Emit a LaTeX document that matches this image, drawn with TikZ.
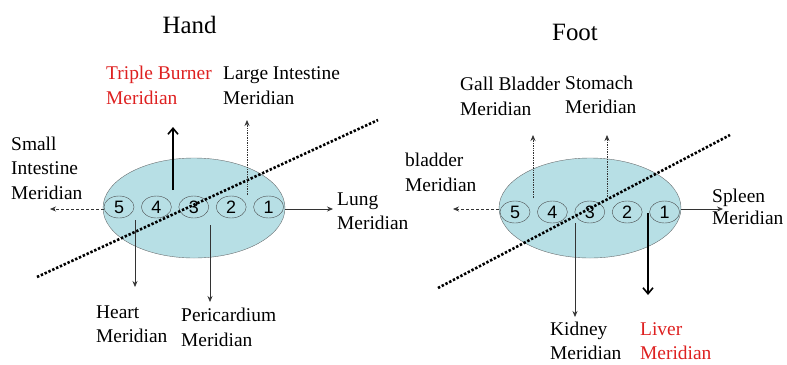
\documentclass[tikz,border=0pt]{standalone}
\usepackage{fontspec}
\setmainfont{Liberation Serif}
\setsansfont{Liberation Sans}
\usetikzlibrary{arrows.meta,positioning,shapes.geometric}
\definecolor{palmfill}{RGB}{183,223,229}
\definecolor{rim}{RGB}{105,110,112}
\definecolor{redlbl}{RGB}{222,32,32}

\begin{document}
\begin{tikzpicture}[x=1bp, y=-1bp, node distance=7bp,
    palm/.style={ellipse, draw=rim, fill=palmfill, minimum width=182bp, minimum height=100bp},
    pnt/.style={ellipse, draw=rim!70!black, minimum width=30bp, minimum height=22bp, inner sep=0pt, font=\sffamily\fontsize{18}{18}\selectfont},
    lbl/.style={anchor=west, align=left, inner sep=0pt, font=\fontsize{19.5}{24.5}\selectfont},
    ttl/.style={inner sep=0pt, font=\fontsize{25}{30}\selectfont},
    flow/.style={-{Stealth[length=6bp,width=5bp]}, line width=0.7bp, black!80},
    dots/.style={flow, densely dotted},
    dashd/.style={flow, densely dashed},
    strong/.style={-{Straight Barb[length=6bp,width=10bp]}, line width=1.6bp},
    cut/.style={line width=2.6bp, dash pattern=on 2.4bp off 1.8bp}]
    \useasboundingbox (0,0) rectangle (787,364);
    % hand
    \node[ttl] (hand) at (189.5,25) {Hand};
    \node[palm] (hov) at (194,208) {};
    \node[pnt] (h5) at (119,207) {5};
    \node[pnt, right=of h5] (h4) {4};
    \node[pnt, right=of h4] (h3) {3};
    \node[pnt, right=of h3] (h2) {2};
    \node[pnt, right=of h2] (h1) {1};
    \draw[cut] (37,277) -- (378,120);
    \node[lbl, text=redlbl] (tb) at (106,85.5) {Triple Burner\\Meridian};
    \node[lbl] (li) at (223,85.5) {Large Intestine\\Meridian};
    \node[lbl] (si) at (11,168) {Small\\Intestine\\Meridian};
    \node[lbl] (lung) at (337,211.5) {Lung\\Meridian};
    \node[lbl] (heart) at (96,324.5) {Heart\\Meridian};
    \node[lbl] (peri) at (181,327.5) {Pericardium\\Meridian};
    \coordinate (tb-a) at (173,190);  \coordinate (tb-b) at (173,127);
    \coordinate (li-a) at (247,195);  \coordinate (li-b) at (247,120);
    \coordinate (si-b) at (50,209);
    \coordinate (lung-b) at (333,209);
    \coordinate (heart-a) at (135,220); \coordinate (heart-b) at (135,287);
    \coordinate (peri-a) at (210,225);  \coordinate (peri-b) at (210,302);
    \draw[strong] (tb-a) -- (tb-b);
    \draw[dots] (li-a) -- (li-b);
    \draw[dashd] (h5.west |- si-b) -- (si-b);
    \draw[flow] (hov.east |- lung-b) -- (lung-b);
    \draw[flow] (heart-a) -- (heart-b);
    \draw[flow] (peri-a) -- (peri-b);
    % foot
    \node[ttl] (foot) at (575,32) {Foot};
    \node[palm] (fov) at (590,208) {};
    \node[pnt] (f5) at (515,212) {5};
    \node[pnt, right=of f5] (f4) {4};
    \node[pnt, right=of f4] (f3) {3};
    \node[pnt, right=of f3] (f2) {2};
    \node[pnt, right=of f2] (f1) {1};
    \draw[cut] (438,288) -- (730,135);
    \node[lbl] (gb) at (460,96.5) {Gall Bladder\\Meridian};
    \node[lbl] (st) at (565,95) {Stomach\\Meridian};
    \node[lbl] (bl) at (405,172.5) {bladder\\Meridian};
    \node[lbl] (sp) at (712,207) {Spleen\\[-3bp]Meridian};
    \node[lbl] (kid) at (550,341) {Kidney\\Meridian};
    \node[lbl, text=redlbl] (liv) at (640,341) {Liver\\Meridian};
    \coordinate (gb-a) at (533,198);  \coordinate (gb-b) at (533,135);
    \coordinate (st-a) at (607,197);  \coordinate (st-b) at (607,135);
    \coordinate (bl-b) at (453,209);
    \coordinate (sp-b) at (723,209);
    \coordinate (kid-a) at (575,223); \coordinate (kid-b) at (575,317);
    \coordinate (liv-a) at (648,213); \coordinate (liv-b) at (648,295);
    \draw[dots] (gb-a) -- (gb-b);
    \draw[dots] (st-a) -- (st-b);
    \draw[dashd] (fov.west |- bl-b) -- (bl-b);
    \draw[flow] (fov.east |- sp-b) -- (sp-b);
    \draw[flow] (kid-a) -- (kid-b);
    \draw[strong] (liv-a) -- (liv-b);
\end{tikzpicture}
\end{document}
